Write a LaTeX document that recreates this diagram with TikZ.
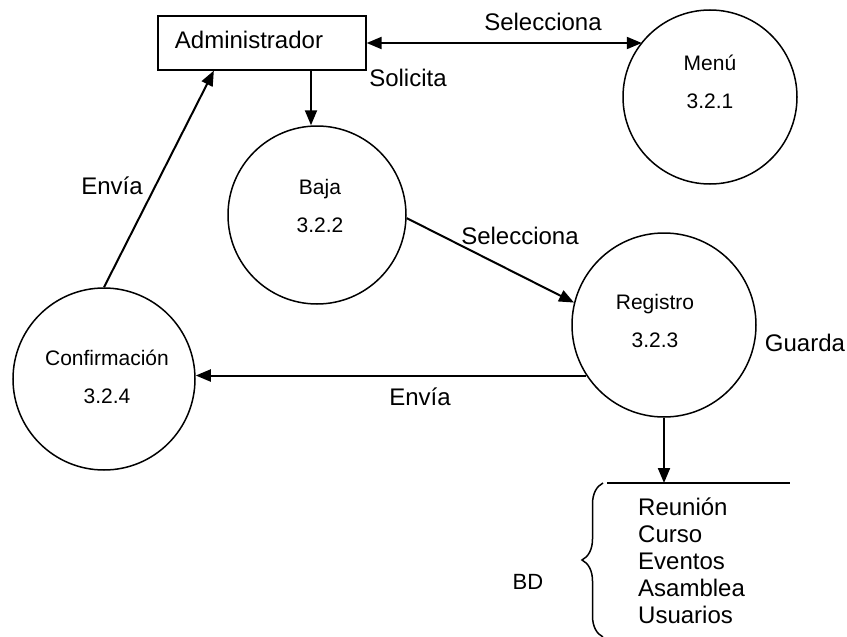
\documentclass[tikz,border=0pt]{standalone}
\usepackage{fontspec}
\setmainfont{Liberation Sans}
\usetikzlibrary{arrows.meta,calc,decorations.pathreplacing}
\begin{document}
\begin{tikzpicture}[x=1pt,y=-1pt,
  proc/.style={draw,circle,line width=1.5pt,inner sep=0pt},
  entity/.style={draw,rectangle,line width=1.3pt,inner sep=0pt,
    minimum width=208pt,minimum height=54pt},
  plabel/.style={align=center,inner sep=0pt,font=\fontsize{21}{38}\selectfont},
  flowlabel/.style={inner sep=0pt,font=\fontsize{24}{27}\selectfont},
  flow/.style={line width=2pt,-{Triangle[length=15pt,width=12pt]}},
  twoway/.style={line width=2pt,{Triangle[length=15pt,width=12pt]}-{Triangle[length=15pt,width=12pt]}},
  plain/.style={line width=1.5pt}
]
\useasboundingbox (0,0) rectangle (847,637);

% external entity
\node[entity] (admin) at (262,43) {};
\node[flowlabel] (adminT) at (249,40) {Administrador};

% processes
\node[proc,minimum size=174pt] (menu) at (710,97) {};
\node[plabel] (menuT) at (710,82) {Menú\\3.2.1};
\node[proc,minimum size=178pt] (baja) at (317,215) {};
\node[plabel] (bajaT) at (320,206) {Baja\\3.2.2};
\node[proc,minimum size=184pt] (reg) at (664,325) {};
\node[plabel] (regT) at (655,321) {Registro\\3.2.3};
\node[proc,minimum size=182pt] (conf) at (104,379) {};
\node[plabel] (confT) at (107,377) {Confirmación\\3.2.4};

% data store
\coordinate (bdL) at (607,483);
\coordinate (bdR) at (790,483);
\draw[plain] (bdL) -- (bdR);
\draw[plain,decorate,decoration={brace,amplitude=21pt}] (603,637) -- (603,483);
\node[flowlabel,font=\fontsize{22}{27}\selectfont] (bdT) at (528,582) {BD};
\node[flowlabel,align=left,anchor=north west] (tables) at (638,498)
  {Reunión\\Curso\\Eventos\\Asamblea\\Usuarios};

% data flows
\draw[twoway] (admin.east) -- (admin.east -| menu.141.5);
\node[flowlabel] (selT1) at (543,22) {Selecciona};

\draw[flow] ([xshift=-6pt]baja.north |- admin.south) -- ([xshift=-6pt]baja.north);
\node[flowlabel] (solT) at (408,78) {Solicita};

\draw[flow] (baja.358) -- (reg.166);
\node[flowlabel] (selT2) at (520,236) {Selecciona};

\draw[flow] (reg.213) -- (reg.213 -| conf.east);
\node[flowlabel] (envT2) at (420,397) {Envía};

\draw[flow] (conf.north) -- ($(admin.south west)!0.27!(admin.south east)$);
\node[flowlabel] (envT1) at (112,186) {Envía};

\draw[flow] (reg.south) -- (reg.south |- bdL);
\node[flowlabel] (guaT) at (805,343) {Guarda};
\end{tikzpicture}
\end{document}
